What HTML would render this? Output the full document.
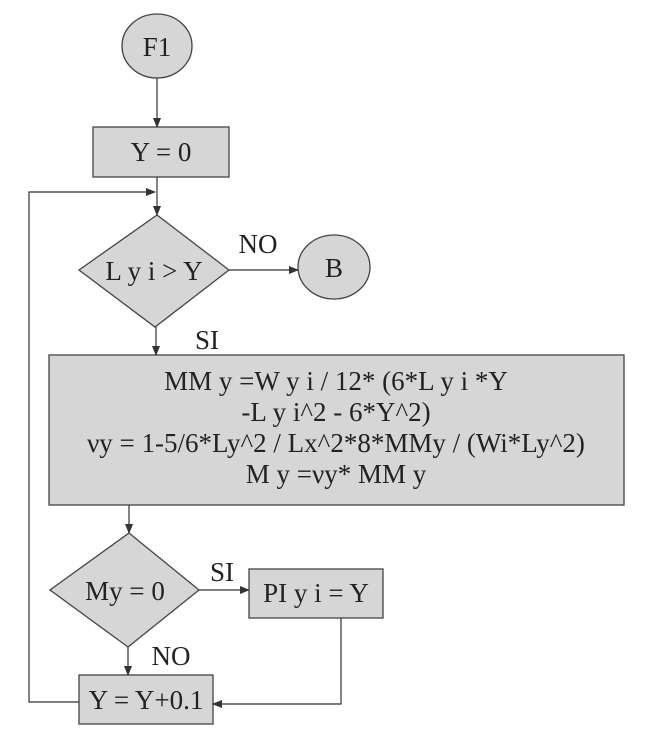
<!DOCTYPE html>
<html><head><meta charset="utf-8"><style>
html,body{margin:0;padding:0;background:#fff;}
svg{display:block;}
text{font-family:"Liberation Serif",serif;fill:#222;}
</style></head><body>
<svg width="663" height="741" viewBox="0 0 663 741" xmlns="http://www.w3.org/2000/svg">
<defs><marker id="a" markerWidth="10" markerHeight="10" refX="9" refY="5" orient="auto" markerUnits="userSpaceOnUse"><path d="M0,1 L10,5 L0,9 Z" fill="#333"/></marker></defs>
<g stroke="#444" stroke-width="1.3" fill="#d6d6d6">
<ellipse cx="157" cy="46" rx="35" ry="32"/>
<rect x="93" y="127" width="136" height="50"/>
<polygon points="157,215 229,270 155,327 79,270"/>
<ellipse cx="334" cy="267" rx="36" ry="32"/>
<rect x="49" y="355" width="575" height="150"/>
<polygon points="129,533 199,590 128,647 50,590"/>
<rect x="249" y="569" width="134" height="49"/>
<rect x="79" y="675" width="134" height="49"/>
</g>
<g stroke="#333" stroke-width="1.2" fill="none">
<line x1="157" y1="78" x2="157" y2="127" marker-end="url(#a)"/>
<line x1="157" y1="177" x2="157" y2="215" marker-end="url(#a)"/>
<polyline points="79,702 29,702 29,192 155,192" marker-end="url(#a)"/>
<line x1="229" y1="270" x2="298" y2="270" marker-end="url(#a)"/>
<line x1="156" y1="327" x2="156" y2="355" marker-end="url(#a)"/>
<line x1="129" y1="505" x2="129" y2="533" marker-end="url(#a)"/>
<line x1="199" y1="590" x2="249" y2="590" marker-end="url(#a)"/>
<line x1="128" y1="647" x2="128" y2="675" marker-end="url(#a)"/>
<polyline points="341,618 341,704 213,704" marker-end="url(#a)"/>
</g>
<g font-size="27" text-anchor="middle">
<text x="157" y="56">F1</text>
<text x="161" y="161">Y = 0</text>
<text x="154" y="280">L y i &gt; Y</text>
<text x="334" y="277">B</text>
<text x="258" y="253">NO</text>
<text x="207" y="349">SI</text>
<text x="336" y="390">MM y =W y i / 12* (6*L y i *Y</text>
<text x="336" y="421">-L y i^2 - 6*Y^2)</text>
<text x="336" y="452">νy = 1-5/6*Ly^2 / Lx^2*8*MMy / (Wi*Ly^2)</text>
<text x="336" y="483">M y =νy* MM y</text>
<text x="125" y="600">My = 0</text>
<text x="222" y="581">SI</text>
<text x="316" y="602">PI y i = Y</text>
<text x="171" y="665">NO</text>
<text x="146" y="709">Y = Y+0.1</text>
</g>
</svg>
</body></html>
